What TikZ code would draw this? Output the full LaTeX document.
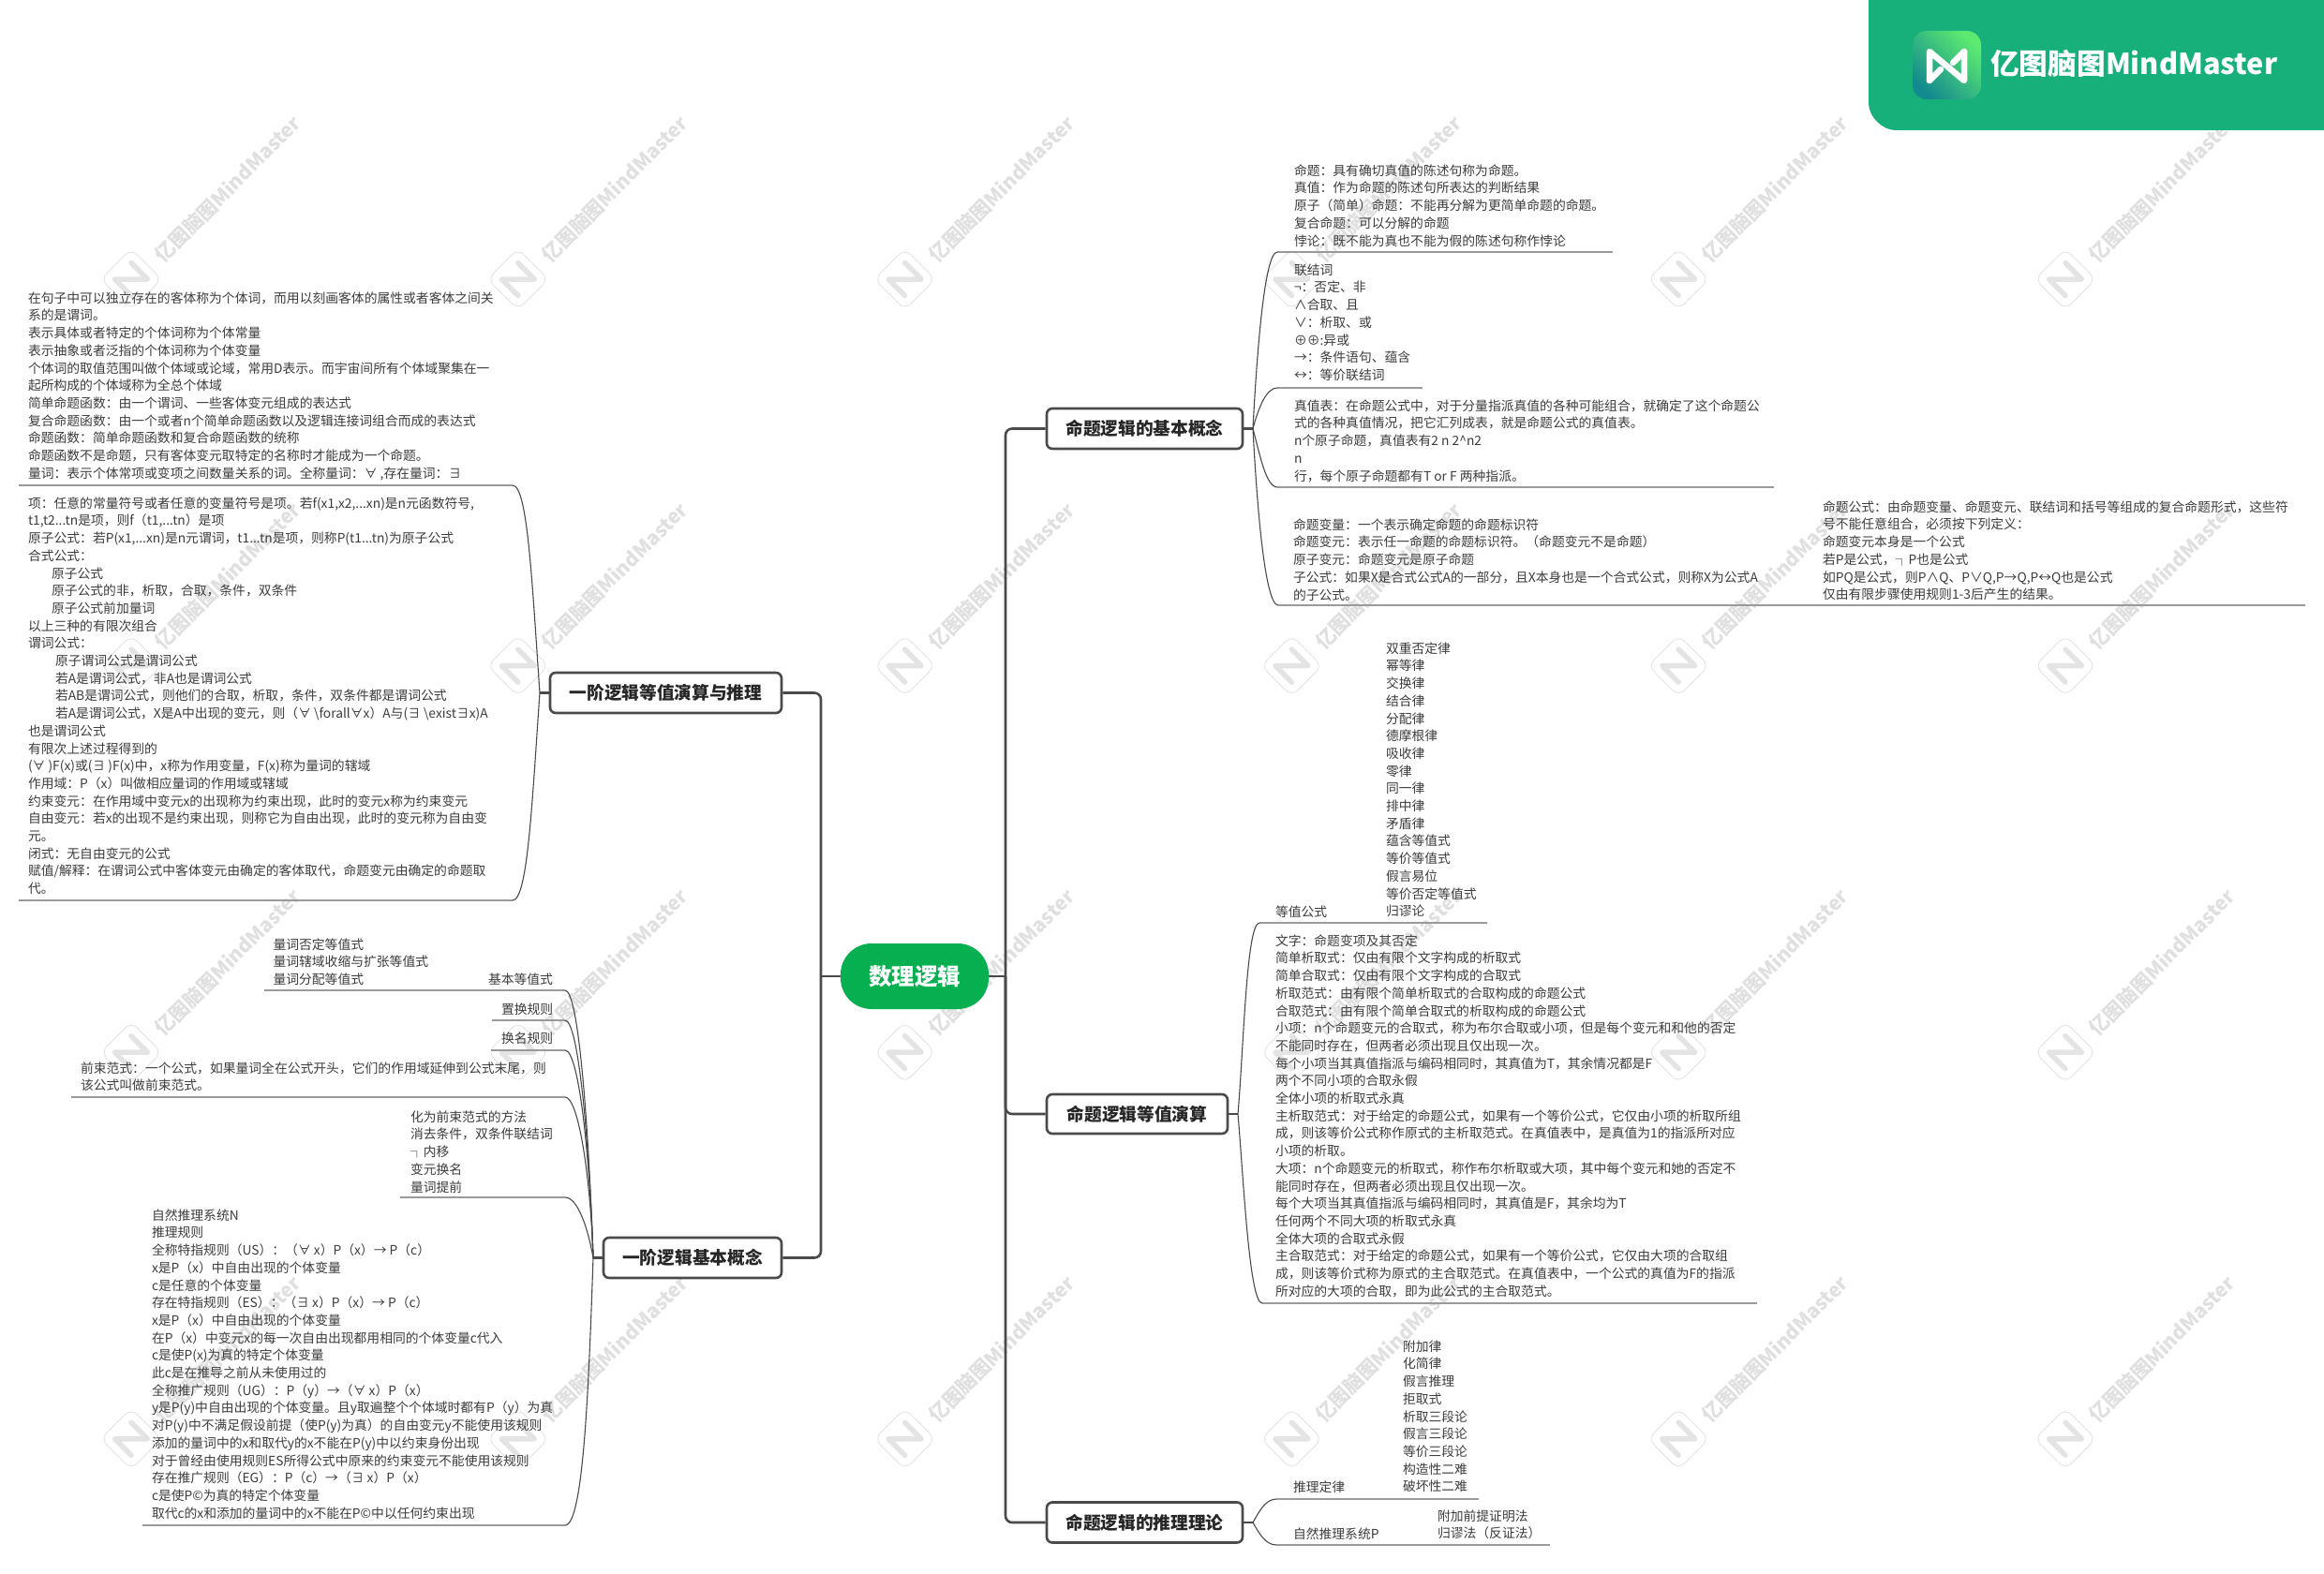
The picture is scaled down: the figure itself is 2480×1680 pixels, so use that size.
\documentclass[tikz,border=0pt]{standalone}
\usepackage{fontspec}
\newfontfamily\cjk{Noto Sans CJK SC}
\definecolor{ink}{HTML}{3C3C3C}
\definecolor{linedark}{HTML}{4A4A4A}
\definecolor{linegrey}{HTML}{9A9A9A}
\definecolor{rootgreen}{HTML}{06B050}
\definecolor{bandgreen}{HTML}{17B07B}
\definecolor{wm}{HTML}{E4E4E4}
\definecolor{wmt}{HTML}{E0E0E0}
\definecolor{iconA}{HTML}{5CEB70}
\definecolor{iconB}{HTML}{138A8F}
\tikzset{
  tblock/.style={anchor=north west,inner sep=0pt,outer sep=0pt,align=left,text=ink,
    font=\cjk\fontsize{13.8}{18.7}\selectfont},
  parentbox/.style={draw=linedark,line width=2.6pt,rounded corners=6pt,fill=white,inner sep=0pt,
    text=black!85,font=\cjk\bfseries\fontsize{18.7}{22}\selectfont},
  rootbox/.style={fill=rootgreen,rounded corners=33pt,inner sep=0pt,text=white,
    minimum width=158pt,minimum height=70pt,font=\cjk\bfseries\fontsize{24.5}{28}\selectfont},
  trunk/.style={draw=linedark,line width=2.6pt,rounded corners=7pt},
  stub/.style={draw=linedark,line width=2.2pt},
  curve/.style={draw=linedark,line width=1.1pt},
  under/.style={draw=linegrey,line width=2pt},
  wmlabel/.style={text=wmt,rotate=45,inner sep=0pt,font=\cjk\bfseries\fontsize{21}{24}\selectfont},
}
% name, x, y of the middle of the first line, lines
\newcommand{\tb}[4]{\pgfmathsetmacro{\tbtop}{#3-8.8}\node[tblock] (#1) at (#2,\tbtop) {\rule{0pt}{14pt}#4};}
% name, left x, right x, y
\newcommand{\ul}[4]{\coordinate (#1a) at (#2,#4);\coordinate (#1b) at (#3,#4);\draw[under] (#1a) -- (#1b);}
\newcommand{\ind}{\hspace*{25pt}}
\begin{document}
\begin{tikzpicture}[x=1pt,y=-1pt]
\useasboundingbox (0,0) rectangle (2480,1680);
\fill[white] (0,0) rectangle (2480,1680);

% watermark
\foreach \i in {0,...,5}{\foreach \j in {0,...,3}{
  \pgfmathsetmacro{\cx}{140+412.8*\i}
  \pgfmathsetmacro{\cy}{298+412.6*\j}
  \begin{scope}[shift={(\cx,\cy)}]
    \begin{scope}[rotate=45]
      \draw[wm,line width=.9pt,rounded corners=9pt] (-23,-23) rectangle (23,23);
      \draw[wm,line width=5.5pt,line cap=round,line join=round] (-12.4,12.4) -- (-12.4,-12.4) -- (12.4,12.4) -- (12.4,-12.4);
    \end{scope}
    \node[wmlabel,name=wm\i\j] at (103,-96) {亿图脑图MindMaster};
  \end{scope}
}}

% brand band
\fill[bandgreen] (2480,0) -- (1994,0) -- (1994,110) to[out=-90,in=180,looseness=.9] (2023,139) -- (2480,139) -- cycle;
\shade[rounded corners=15pt,left color=iconA,right color=iconB,shading angle=-45] (2041,33) rectangle (2114,106);
\draw[white,line width=6.5pt,line join=round,line cap=round] (2059,86) -- (2059,55) -- (2096,86) -- (2096,55);
\draw[white,line width=6.5pt,line cap=round] (2059,86) -- (2071,74) (2096,55) -- (2084,67);
\node[anchor=west,inner sep=0pt,text=white,font=\cjk\bfseries\fontsize{30.7}{36}\selectfont] (brand) at (2124,68) {亿图脑图MindMaster};

% root and main topics
\node[rootbox] (root) at (976,1042) {数理逻辑};
\node[parentbox,minimum width=209pt,minimum height=43pt] (p1) at (1221.5,457.5) {命题逻辑的基本概念};
\node[parentbox,minimum width=193pt,minimum height=42pt] (p2) at (1213.5,1189) {命题逻辑等值演算};
\node[parentbox,minimum width=209pt,minimum height=43pt] (p3) at (1221.5,1625) {命题逻辑的推理理论};
\node[parentbox,minimum width=247pt,minimum height=43pt] (p4) at (710.5,739.5) {一阶逻辑等值演算与推理};
\node[parentbox,minimum width=190pt,minimum height=43pt] (p5) at (739,1342.5) {一阶逻辑基本概念};

\coordinate (rj) at (1073,1042);
\coordinate (lj) at (876,1042);
\draw[trunk] (root.east) -- (rj);
\draw[trunk] (root.west) -- (lj);
\draw[trunk] (rj) |- (p1.west);
\draw[trunk] (rj) |- (p2.west);
\draw[trunk] (rj) |- (p3.west);
\draw[trunk] (lj) |- (p4.east);
\draw[trunk] (lj) |- (p5.east);

\coordinate (j1) at (1337,457.5);
\coordinate (j2) at (1321,1189);
\coordinate (j3) at (1337,1625);
\coordinate (j4) at (576,739.5);
\coordinate (j5) at (633,1342.5);
\draw[stub] (p1.east) -- (j1);
\draw[stub] (p2.east) -- (j2);
\draw[stub] (p3.east) -- (j3);
\draw[stub] (p4.west) -- (j4);
\draw[stub] (p5.west) -- (j5);

% ---- p1 children
\tb{a1}{1381}{182}{命题：具有确切真值的陈述句称为命题。\\真值：作为命题的陈述句所表达的判断结果\\原子（简单）命题：不能再分解为更简单命题的命题。\\复合命题：可以分解的命题\\悖论：既不能为真也不能为假的陈述句称作悖论}
\ul{ua1}{1363}{1721}{269}
\tb{a2}{1381}{288}{联结词\\¬：否定、非\\∧合取、且\\∨：析取、或\\⊕⊕:异或\\→：条件语句、蕴含\\↔：等价联结词}
\ul{ua2}{1363}{1518}{414}
\tb{a3}{1381}{433}{真值表：在命题公式中，对于分量指派真值的各种可能组合，就确定了这个命题公\\式的各种真值情况，把它汇列成表，就是命题公式的真值表。\\n个原子命题，真值表有2 n 2\textasciicircum n2\\n\\ 行，每个原子命题都有T or F 两种指派。}
\ul{ua3}{1363}{1893}{520}
\tb{a4}{1380}{560}{命题变量：一个表示确定命题的命题标识符\\命题变元：表示任一命题的命题标识符。（命题变元不是命题）\\原子变元：命题变元是原子命题\\子公式：如果X是合式公式A的一部分，且X本身也是一个合式公式，则称X为公式A\\的子公式。}
\tb{a5}{1945}{541}{命题公式：由命题变量、命题变元、联结词和括号等组成的复合命题形式，这些符\\号不能任意组合，必须按下列定义：\\命题变元本身是一个公式\\若P是公式，┐P也是公式\\如PQ是公式，则P∧Q、P∨Q,P→Q,P↔Q也是公式\\仅由有限步骤使用规则1-3后产生的结果。}
\ul{ua4}{1364}{2460}{646}
\draw[curve] (j1) to[out=87,in=180,out distance=75,in distance=14] (ua1a);
\draw[curve] (j1) to[out=75,in=180,out distance=22,in distance=12] (ua2a);
\draw[curve] (j1) to[out=-75,in=180,out distance=28,in distance=12] (ua3a);
\draw[curve] (j1) to[out=-87,in=180,out distance=85,in distance=14] (ua4a);

% ---- p2 children
\tb{b1}{1361}{973}{等值公式}
\tb{b2}{1479}{692}{双重否定律\\幂等律\\交换律\\结合律\\分配律\\德摩根律\\吸收律\\零律\\同一律\\排中律\\矛盾律\\蕴含等值式\\等价等值式\\假言易位\\等价否定等值式\\归谬论}
\ul{ub1}{1344}{1587}{985}
\tb{b3}{1361}{1004}{文字：命题变项及其否定\\简单析取式：仅由有限个文字构成的析取式\\简单合取式：仅由有限个文字构成的合取式\\析取范式：由有限个简单析取式的合取构成的命题公式\\合取范式：由有限个简单合取式的析取构成的命题公式\\小项：n个命题变元的合取式，称为布尔合取或小项，但是每个变元和和他的否定\\不能同时存在，但两者必须出现且仅出现一次。\\每个小项当其真值指派与编码相同时，其真值为T，其余情况都是F\\两个不同小项的合取永假\\全体小项的析取式永真\\主析取范式：对于给定的命题公式，如果有一个等价公式，它仅由小项的析取所组\\成，则该等价公式称作原式的主析取范式。在真值表中，是真值为1的指派所对应\\小项的析取。\\大项：n个命题变元的析取式，称作布尔析取或大项，其中每个变元和她的否定不\\能同时存在，但两者必须出现且仅出现一次。\\每个大项当其真值指派与编码相同时，其真值是F，其余均为T\\任何两个不同大项的析取式永真\\全体大项的合取式永假\\主合取范式：对于给定的命题公式，如果有一个等价公式，它仅由大项的合取组\\成，则该等价式称为原式的主合取范式。在真值表中，一个公式的真值为F的指派\\所对应的大项的合取，即为此公式的主合取范式。}
\ul{ub2}{1347}{1875}{1391}
\draw[curve] (j2) to[out=85,in=180,out distance=70,in distance=14] (ub1a);
\draw[curve] (j2) to[out=-85,in=180,out distance=70,in distance=14] (ub2a);

% ---- p3 children
\tb{c1}{1380}{1587}{推理定律}
\tb{c2}{1497}{1437}{附加律\\化简律\\假言推理\\拒取式\\析取三段论\\假言三段论\\等价三段论\\构造性二难\\破坏性二难}
\ul{uc1}{1362}{1578}{1600}
\tb{c3}{1380}{1637}{自然推理系统P}
\tb{c4}{1534}{1618}{附加前提证明法\\归谬法（反证法）}
\ul{uc2}{1362}{1654}{1649}
\draw[curve] (j3) to[out=60,in=180,out distance=12,in distance=12] (uc1a);
\draw[curve] (j3) to[out=-60,in=180,out distance=12,in distance=12] (uc2a);

% ---- p4 children
\tb{d1}{30}{318}{在句子中可以独立存在的客体称为个体词，而用以刻画客体的属性或者客体之间关\\系的是谓词。\\表示具体或者特定的个体词称为个体常量\\表示抽象或者泛指的个体词称为个体变量\\个体词的取值范围叫做个体域或论域，常用D表示。而宇宙间所有个体域聚集在一\\起所构成的个体域称为全总个体域\\简单命题函数：由一个谓词、一些客体变元组成的表达式\\复合命题函数：由一个或者n个简单命题函数以及逻辑连接词组合而成的表达式\\命题函数：简单命题函数和复合命题函数的统称\\命题函数不是命题，只有客体变元取特定的名称时才能成为一个命题。\\量词：表示个体常项或变项之间数量关系的词。全称量词：∀ ,存在量词：∃}
\ul{ud1}{20}{547}{518}
\tb{d2}{30}{537}{项：任意的常量符号或者任意的变量符号是项。若f(x1,x2,...xn)是n元函数符号,\\t1,t2...tn是项，则f（t1,...tn）是项\\原子公式：若P(x1,...xn)是n元谓词，t1...tn是项，则称P(t1...tn)为原子公式\\合式公式：\\\ind 原子公式\\\ind 原子公式的非，析取，合取，条件，双条件\\\ind 原子公式前加量词\\以上三种的有限次组合\\谓词公式：\\\hspace*{29pt}原子谓词公式是谓词公式\\\hspace*{29pt}若A是谓词公式，非A也是谓词公式\\\hspace*{29pt}若AB是谓词公式，则他们的合取，析取，条件，双条件都是谓词公式\\\hspace*{29pt}若A是谓词公式，X是A中出现的变元，则（∀ \textbackslash forall∀x）A与(∃ \textbackslash exist∃x)A\\也是谓词公式\\有限次上述过程得到的\\(∀ )F(x)或(∃ )F(x)中，x称为作用变量，F(x)称为量词的辖域\\作用域：P（x）叫做相应量词的作用域或辖域\\约束变元：在作用域中变元x的出现称为约束出现，此时的变元x称为约束变元\\自由变元：若x的出现不是约束出现，则称它为自由出现，此时的变元称为自由变\\元。\\闭式：无自由变元的公式\\赋值/解释：在谓词公式中客体变元由确定的客体取代，命题变元由确定的命题取\\代。}
\ul{ud2}{20}{547}{961}
\draw[curve] (j4) to[out=94,in=0,out distance=120,in distance=16] (ud1b);
\draw[curve] (j4) to[out=-94,in=0,out distance=120,in distance=16] (ud2b);

% ---- p5 children
\tb{e1}{291.5}{1008}{量词否定等值式\\量词辖域收缩与扩张等值式\\量词分配等值式}
\tb{e2}{521}{1045}{基本等值式}
\ul{ue1}{282}{603}{1057}
\tb{e3}{535}{1077}{置换规则}
\ul{ue2}{525}{603}{1089}
\tb{e4}{535}{1108}{换名规则}
\ul{ue3}{524}{603}{1121}
\tb{e5}{86}{1140}{前束范式：一个公式，如果量词全在公式开头，它们的作用域延伸到公式末尾，则\\该公式叫做前束范式。}
\ul{ue4}{76}{603}{1171}
\tb{e6}{438}{1192}{化为前束范式的方法\\消去条件，双条件联结词\\┐内移\\变元换名\\量词提前}
\ul{ue5}{427}{603}{1278}
\tb{e7}{162}{1297}{自然推理系统N\\推理规则\\全称特指规则（US）：（∀ x）P（x）→ P（c）\\x是P（x）中自由出现的个体变量\\c是任意的个体变量\\存在特指规则（ES）：（∃ x）P（x）→ P（c）\\x是P（x）中自由出现的个体变量\\在P（x）中变元x的每一次自由出现都用相同的个体变量c代入\\c是使P(x)为真的特定个体变量\\此c是在推导之前从未使用过的\\全称推广规则（UG）：P（y）→（∀ x）P（x）\\y是P(y)中自由出现的个体变量。且y取遍整个个体域时都有P（y）为真\\对P(y)中不满足假设前提（使P(y)为真）的自由变元y不能使用该规则\\添加的量词中的x和取代y的x不能在P(y)中以约束身份出现\\对于曾经由使用规则ES所得公式中原来的约束变元不能使用该规则\\存在推广规则（EG）：P（c）→（∃ x）P（x）\\c是使P©为真的特定个体变量\\取代c的x和添加的量词中的x不能在P©中以任何约束出现}
\ul{ue6}{152}{603}{1628}
\draw[curve] (j5) to[out=92,in=0,out distance=150,in distance=14] (ue1b);
\draw[curve] (j5) to[out=92,in=0,out distance=130,in distance=14] (ue2b);
\draw[curve] (j5) to[out=92,in=0,out distance=120,in distance=14] (ue3b);
\draw[curve] (j5) to[out=92,in=0,out distance=90,in distance=14] (ue4b);
\draw[curve] (j5) to[out=100,in=0,out distance=30,in distance=14] (ue5b);
\draw[curve] (j5) to[out=-92,in=0,out distance=130,in distance=20] (ue6b);
\end{tikzpicture}
\end{document}
